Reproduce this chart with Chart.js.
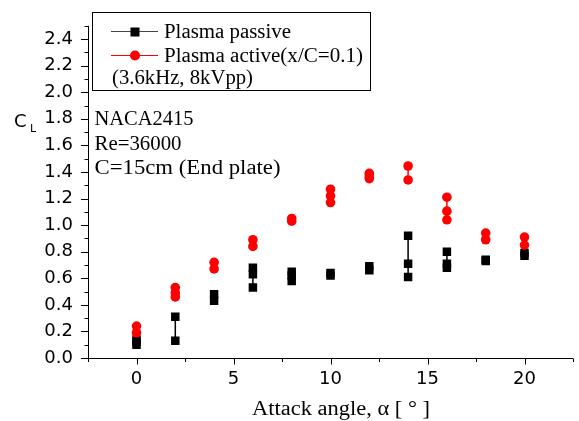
<!DOCTYPE html>
<html>
<head>
<meta charset="utf-8">
<script src="https://cdn.jsdelivr.net/npm/chart.js@4.4.0/dist/chart.umd.min.js"></script>
<style>
html,body{margin:0;padding:0;background:#fff;}
#wrap{width:579px;height:421px;}
</style>
</head>
<body>
<div id="wrap"><canvas id="c" width="579" height="421"></canvas></div>
<script>
// ---- data ----
const angles = [0, 2, 4, 6, 8, 10, 12, 14, 16, 18, 20];
const passive = [
  [0.10, 0.12, 0.14],
  [0.13, 0.31],
  [0.43, 0.48],
  [0.53, 0.63, 0.68],
  [0.58, 0.62, 0.65],
  [0.62, 0.64],
  [0.66, 0.69],
  [0.61, 0.71, 0.92],
  [0.68, 0.71, 0.80],
  [0.73, 0.74],
  [0.77, 0.79]
];
const active = [
  [0.19, 0.24],
  [0.46, 0.49, 0.53],
  [0.67, 0.72],
  [0.84, 0.89],
  [1.03, 1.05],
  [1.17, 1.22, 1.27],
  [1.35, 1.37, 1.39],
  [1.34, 1.445],
  [1.04, 1.105, 1.21],
  [0.89, 0.94],
  [0.85, 0.91]
];
const xTicks = [0, 5, 10, 15, 20];
const yTicks = [0, 0.2, 0.4, 0.6, 0.8, 1.0, 1.2, 1.4, 1.6, 1.8, 2.0, 2.2, 2.4];
const seriesNames = ['Plasma passive', 'Plasma active(x/C=0.1)'];
const legendNote = '(3.6kHz, 8kVpp)';
const notes = ['NACA2415', 'Re=36000', 'C=15cm (End plate)'];
const xTitle = 'Attack angle, \u03b1 [ \u00b0 ]';

function build(groups) {
  const out = [];
  groups.forEach((g, i) => {
    g.forEach(v => out.push({x: angles[i], y: v}));
    out.push({x: angles[i], y: null});
  });
  return out;
}

const serif = "'Liberation Serif', 'Times New Roman', serif";
const sans = "'DejaVu Sans', sans-serif";

// draw text stretched horizontally to a given width
function fitText(ctx, text, x, y, w) {
  const m = ctx.measureText(text).width;
  const sx = w / m;
  ctx.save();
  ctx.translate(x, y);
  ctx.scale(sx, 1);
  ctx.fillText(text, 0, 0);
  ctx.restore();
}

const decor = {
  id: 'decor',
  afterDraw(chart) {
    const ctx = chart.ctx;
    const xs = chart.scales.x, ys = chart.scales.y;
    const a = chart.chartArea;
    ctx.save();
    ctx.strokeStyle = '#000';
    ctx.lineWidth = 1;
    // axis lines
    ctx.beginPath();
    ctx.moveTo(a.left + 0.5, a.top);
    ctx.lineTo(a.left + 0.5, a.bottom + 0.5);
    ctx.moveTo(a.left - 7, a.bottom + 0.5);
    ctx.lineTo(a.right, a.bottom + 0.5);
    ctx.stroke();
    // y ticks
    ctx.beginPath();
    for (let i = 0; i <= 25; i++) {
      const v = i / 10;
      const py = Math.round(ys.getPixelForValue(v)) + 0.5;
      const len = (i % 2 === 0) ? 7.5 : 4;
      ctx.moveTo(a.left + 0.5, py);
      ctx.lineTo(a.left + 0.5 - len, py);
    }
    // x ticks
    for (let i = -1; i <= 9; i++) {
      const v = i * 2.5;
      const px = Math.round(xs.getPixelForValue(v)) + 0.5;
      const len = (i % 2 === 0) ? 6 : 3.5;
      ctx.moveTo(px, a.bottom + 0.5);
      ctx.lineTo(px, a.bottom + 0.5 + len);
    }
    ctx.stroke();

    // legend box
    ctx.strokeRect(92.5, 12.5, 278, 78);
    ctx.fillStyle = '#000';
    ctx.font = '20px ' + serif;
    ctx.textBaseline = 'alphabetic';
    ctx.textAlign = 'left';
    // entry 1
    ctx.strokeStyle = '#444';
    ctx.lineWidth = 1.2;
    ctx.beginPath(); ctx.moveTo(111, 31.5); ctx.lineTo(158, 31.5); ctx.stroke();
    ctx.fillStyle = '#000';
    ctx.fillRect(130.5, 27.5, 9, 9);
    fitText(ctx, seriesNames[0], 164, 37.5, 127);
    // entry 2
    ctx.strokeStyle = '#ff0000';
    ctx.beginPath(); ctx.moveTo(111, 55.5); ctx.lineTo(158, 55.5); ctx.stroke();
    ctx.fillStyle = '#ff0000';
    ctx.beginPath(); ctx.arc(135, 55.5, 5, 0, Math.PI * 2); ctx.fill();
    ctx.fillStyle = '#000';
    fitText(ctx, seriesNames[1], 164, 61.5, 199);
    fitText(ctx, legendNote, 112, 84, 141);

    // notes
    fitText(ctx, notes[0], 94.5, 125, 99);
    fitText(ctx, notes[1], 94.5, 149.5, 87);
    fitText(ctx, notes[2], 94.5, 174, 186);

    // x title
    fitText(ctx, xTitle, 252, 415, 178);

    // y title C_L
    ctx.font = '18px ' + sans;
    ctx.fillText('C', 14, 127);
    ctx.font = '11px ' + sans;
    ctx.fillText('L', 30, 132);
    ctx.restore();
  }
};

new Chart(document.getElementById('c'), {
  type: 'line',
  data: {
    datasets: [
      {
        label: seriesNames[0],
        data: build(passive),
        borderColor: '#000',
        backgroundColor: '#000',
        borderWidth: 1.5,
        pointStyle: 'rect',
        pointRadius: 6,
        pointBorderWidth: 0,
        spanGaps: false,
        order: 2
      },
      {
        label: seriesNames[1],
        data: build(active),
        borderColor: '#ff0000',
        backgroundColor: '#ff0000',
        borderWidth: 1.5,
        pointStyle: 'circle',
        pointRadius: 4.8,
        pointBorderWidth: 0,
        spanGaps: false,
        order: 1
      }
    ]
  },
  options: {
    responsive: false,
    animation: false,
    layout: {padding: {left: 0, right: 2, top: 10, bottom: 0}},
    plugins: {legend: {display: false}, tooltip: {enabled: false}},
    scales: {
      x: {
        type: 'linear',
        min: -2.5,
        max: 22.5,
        afterFit(s) { s.height = 63; },
        afterBuildTicks(s) { s.ticks = xTicks.map(v => ({value: v})); },
        grid: {display: false, drawTicks: false},
        border: {display: false},
        ticks: {
          padding: 11,
          color: '#000',
          font: {family: sans, size: 18},
          maxRotation: 0,
          autoSkip: false,
          callback: v => String(v)
        }
      },
      y: {
        type: 'linear',
        min: 0,
        max: 2.5,
        afterFit(s) { s.width = 88; },
        afterBuildTicks(s) { s.ticks = yTicks.map(v => ({value: v})); },
        grid: {display: false, drawTicks: false},
        border: {display: false},
        ticks: {
          padding: 15,
          color: '#000',
          font: {family: sans, size: 18},
          autoSkip: false,
          callback: v => Number(v).toFixed(1)
        }
      }
    }
  },
  plugins: [decor]
});
</script>
</body>
</html>
